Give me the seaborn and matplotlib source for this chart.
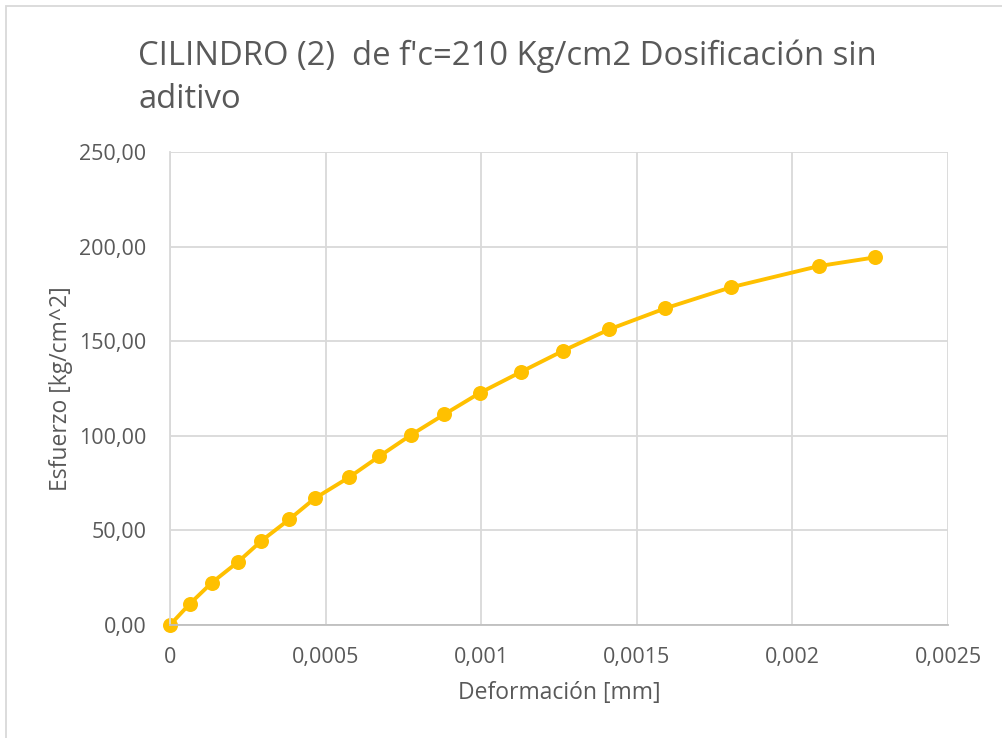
import matplotlib
matplotlib.use("Agg")
import matplotlib.pyplot as plt
from matplotlib.patches import Rectangle
import seaborn as sns
import pandas as pd

# data
deformacion = [0.0, 0.000063, 0.000134, 0.000219, 0.000294, 0.000383, 0.000465,
               0.000575, 0.000673, 0.000773, 0.000882, 0.000996, 0.001127,
               0.001264, 0.001412, 0.001592, 0.001803, 0.002085, 0.002265]
esfuerzo = [0.0, 11.1, 22.3, 33.4, 44.5, 55.8, 66.9, 78.0, 89.2, 100.3, 111.4,
            122.7, 133.7, 145.0, 156.3, 167.4, 178.5, 189.7, 194.3]

x_ticks = [0, 0.0005, 0.001, 0.0015, 0.002, 0.0025]
x_ticklabels = ["0", "0,0005", "0,001", "0,0015", "0,002", "0,0025"]
y_ticks = [0, 50, 100, 150, 200, 250]
y_ticklabels = ["0,00", "50,00", "100,00", "150,00", "200,00", "250,00"]

df = pd.DataFrame({"def": deformacion, "esf": esfuerzo})

sns.set_style("white")
plt.rcParams["font.family"] = ["Open Sans", "DejaVu Sans"]
text_color = "#595959"
grid_color = "#D9D9D9"

fig = plt.figure(figsize=(10.03, 7.38), dpi=100)
ax = fig.add_axes([170 / 1003, (738 - 625) / 738, (948 - 170) / 1003, (625 - 152) / 738])

sns.lineplot(data=df, x="def", y="esf", ax=ax, color="#FFC000", linewidth=2.8,
             marker="o", markersize=10.8, markeredgewidth=0, sort=False, clip_on=False)

ax.set_xlim(0, 0.0025)
ax.set_ylim(0, 250)
ax.set_xticks(x_ticks)
ax.set_xticklabels(x_ticklabels)
ax.set_yticks(y_ticks)
ax.set_yticklabels(y_ticklabels)
ax.tick_params(axis="x", length=0, labelsize=15.5, labelcolor=text_color, pad=16)
ax.tick_params(axis="y", length=0, labelsize=15.5, labelcolor=text_color, pad=17)
ax.grid(True, color=grid_color, linewidth=1.3)
ax.set_axisbelow(True)
for side in ["top", "right"]:
    ax.spines[side].set_visible(False)
ax.spines["left"].set_color(grid_color)
ax.spines["bottom"].set_color("#BFBFBF")
ax.spines["left"].set_linewidth(1.3)
ax.spines["bottom"].set_linewidth(1.3)

ax.set_xlabel("Deformación [mm]", fontsize=16.5, color=text_color, labelpad=9)
ax.set_ylabel("Esfuerzo [kg/cm^2]", fontsize=16.5, color=text_color, labelpad=4)

fig.text(138 / 1003, 1 - 56 / 738, "CILINDRO (2)  de f'c=210 Kg/cm2 Dosificación sin",
         fontsize=23.6, color=text_color, va="center", ha="left")
fig.text(138 / 1003, 1 - 99 / 738, "aditivo",
         fontsize=23.6, color=text_color, va="center", ha="left")

fig.patches.append(Rectangle((6 / 1003, -0.01), 1.02, 1 - 6 / 738 + 0.01,
                             transform=fig.transFigure, fill=False,
                             edgecolor=grid_color, linewidth=1.3))

fig.savefig("out.png", dpi=100)
